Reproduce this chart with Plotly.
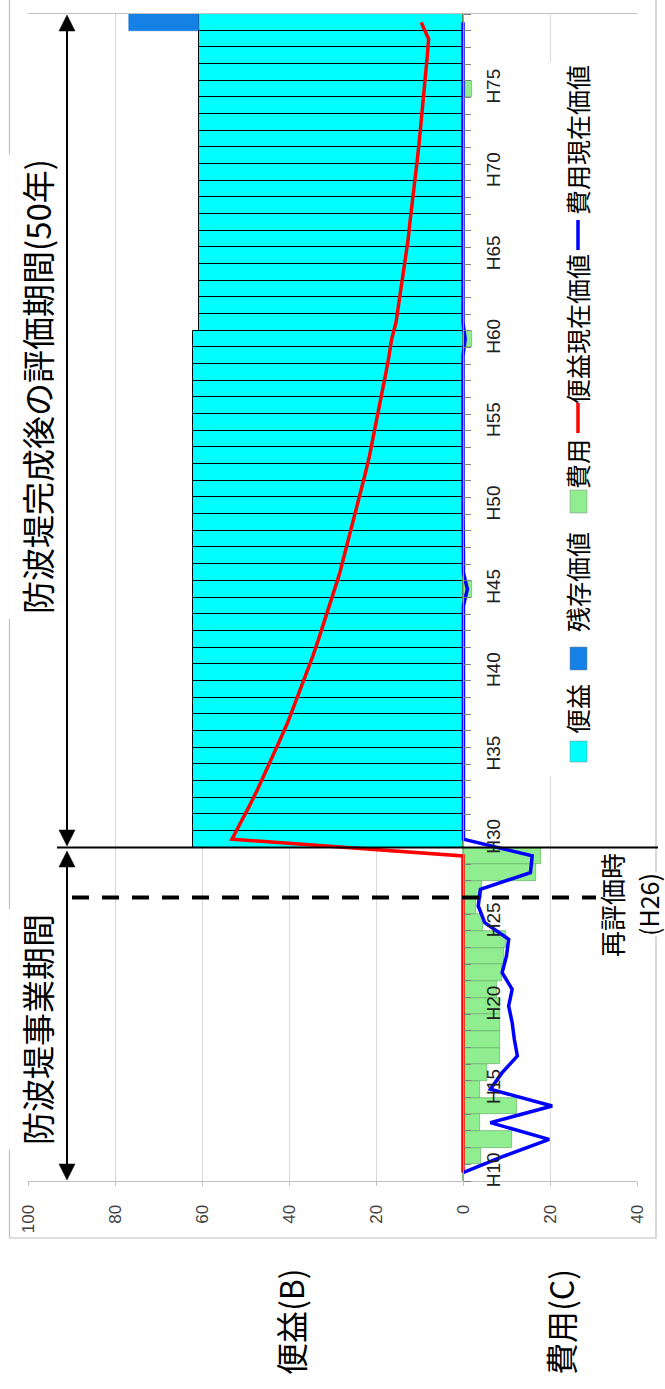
import plotly.graph_objects as go

# ---- data -------------------------------------------------------------
years = [10, 11, 12, 13, 14, 15, 16, 17, 18, 19,
         20, 21, 22, 23, 24, 25, 26, 27, 28, 29,
         30, 31, 32, 33, 34, 35, 36, 37, 38, 39,
         40, 41, 42, 43, 44, 45, 46, 47, 48, 49,
         50, 51, 52, 53, 54, 55, 56, 57, 58, 59,
         60, 61, 62, 63, 64, 65, 66, 67, 68, 69,
         70, 71, 72, 73, 74, 75, 76, 77, 78, 79]

year_tick_vals = [10, 15, 20, 25, 30, 35, 40, 45, 50, 55, 60, 65, 70, 75]
year_tick_text = ["H10", "H15", "H20", "H25", "H30", "H35", "H40",
                  "H45", "H50", "H55", "H60", "H65", "H70", "H75"]

value_tick_vals = [-40, -20, 0, 20, 40, 60, 80, 100]
value_tick_text = ["40", "20", "0", "20", "40", "60", "80", "100"]

# 便益 (annual benefit)
benefit = [None, None, None, None, None, None, None, None, None, None,
           None, None, None, None, None, None, None, None, None, None,
           62.1, 62.1, 62.1, 62.1, 62.1, 62.1, 62.1, 62.1, 62.1, 62.1,
           62.1, 62.1, 62.1, 62.1, 62.1, 62.1, 62.1, 62.1, 62.1, 62.1,
           62.1, 62.1, 62.1, 62.1, 62.1, 62.1, 62.1, 62.1, 62.1, 62.1,
           62.1, 60.7, 60.7, 60.7, 60.7, 60.7, 60.7, 60.7, 60.7, 60.7,
           60.7, 60.7, 60.7, 60.7, 60.7, 60.7, 60.7, 60.7, 60.7, 60.7]

# 残存価値 (residual value, final year)
residual = [None] * 69 + [16.1]

# 費用 (annual cost)
cost = [0.0, 4.2, 11.3, 4.0, 12.3, 3.8, 5.6, 8.6, 8.6, 8.6,
        8.6, 7.9, 9.0, 9.4, 9.8, 4.7, 3.1, 4.4, 16.7, 17.9,
        0.1, 0.1, 0.1, 0.1, 0.1, 0.1, 0.1, 0.1, 0.1, 0.1,
        0.1, 0.1, 0.1, 0.1, 0.1, 2.0, 0.1, 0.1, 0.1, 0.1,
        0.1, 0.1, 0.1, 0.1, 0.1, 0.1, 0.1, 0.1, 0.1, 0.1,
        2.0, 0.1, 0.1, 0.1, 0.1, 0.1, 0.1, 0.1, 0.1, 0.1,
        0.1, 0.1, 0.1, 0.1, 0.1, 2.0, 0.1, 0.1, 0.1, 0.1]

# 便益現在価値 (present value of benefit)
pv_benefit = [0.0, 0.0, 0.0, 0.0, 0.0, 0.0, 0.0, 0.0, 0.0, 0.0,
              0.0, 0.0, 0.0, 0.0, 0.0, 0.0, 0.0, 0.0, 0.0, 0.0,
              53.1, 51.0, 49.1, 47.2, 45.4, 43.6, 42.0, 40.3, 38.8, 37.3,
              35.9, 34.5, 33.2, 31.9, 30.7, 29.5, 28.3, 27.3, 26.2, 25.2,
              24.2, 23.3, 22.4, 21.5, 20.7, 19.9, 19.2, 18.4, 17.7, 17.0,
              16.4, 15.4, 14.8, 14.2, 13.7, 13.2, 12.6, 12.2, 11.7, 11.2,
              10.8, 10.4, 10.0, 9.6, 9.2, 8.9, 8.5, 8.2, 7.9, 9.6]

# 費用現在価値 (present value of cost)
pv_cost = [0.0, 9.5, 19.8, 6.3, 20.5, 6.3, 9.0, 12.5, 11.8, 11.3,
           10.5, 11.3, 9.0, 10.0, 10.5, 5.0, 3.5, 4.0, 15.5, 15.9,
           0.1, 0.1, 0.1, 0.1, 0.1, 0.1, 0.1, 0.1, 0.1, 0.1,
           0.1, 0.1, 0.1, 0.1, 0.1, 1.0, 0.1, 0.1, 0.0, 0.0,
           0.0, 0.0, 0.0, 0.0, 0.0, 0.0, 0.0, 0.0, 0.0, 0.0,
           0.5, 0.0, 0.0, 0.0, 0.0, 0.0, 0.0, 0.0, 0.0, 0.0,
           0.0, 0.0, 0.0, 0.0, 0.0, 0.2, 0.0, 0.0, 0.0, 0.0]

series_names = ["便益", "残存価値", "費用", "便益現在価値", "費用現在価値"]
series_colors = ["#00FFFF", "#1581E6", "#90EE90", "#FF0000", "#0000FF"]

# ---- geometry ----------------------------------------------------------
FIG_W, FIG_H = 665, 1389
M_L, M_R, M_T, M_B = 28, 28, 14, 208
PW = FIG_W - M_L - M_R
PH = FIG_H - M_T - M_B
FONT = "Noto Sans CJK JP"


def px(x):
    return (x - M_L) / PW


def py(y):
    return 1 - (y - M_T) / PH


fig = go.Figure()

fig.add_bar(y=years, x=benefit, orientation="h", width=1,
            name=series_names[0],
            marker=dict(color=series_colors[0], line=dict(color="#000000", width=1)))
fig.add_bar(y=years, x=residual, orientation="h", width=1,
            name=series_names[1],
            marker=dict(color=series_colors[1], line=dict(color="#0F6FC8", width=0.5)))
fig.add_bar(y=years, x=[-c for c in cost], orientation="h", width=1,
            name=series_names[2],
            marker=dict(color=series_colors[2], line=dict(color="#6AAE6A", width=0.7)))
fig.add_scatter(y=years, x=pv_benefit, mode="lines", name=series_names[3],
                line=dict(color=series_colors[3], width=3.5))
fig.add_scatter(y=years, x=[-c for c in pv_cost], mode="lines", name=series_names[4],
                line=dict(color=series_colors[4], width=3.5))

shapes = []
annotations = []

# outer chart frame
shapes.append(dict(type="rect", xref="paper", yref="paper",
                   x0=px(9.5), x1=px(656), y0=py(-2), y1=py(1238),
                   line=dict(color="#BFBFBF", width=1.2), layer="below"))

# legend panel (rotated)
shapes.append(dict(type="rect", xref="paper", yref="paper",
                   x0=px(546), x1=px(630), y0=py(62), y1=py(776),
                   fillcolor="white", line=dict(width=0), layer="above"))
for (y0, y1), col in zip([(741, 762), (647, 670), (490, 513)], series_colors[:3]):
    shapes.append(dict(type="rect", xref="paper", yref="paper",
                       x0=px(570), x1=px(587), y0=py(y1), y1=py(y0),
                       fillcolor=col, line=dict(color="#808080", width=0.5), layer="above"))
for (y0, y1), col in zip([(403, 433), (220, 250)], series_colors[3:]):
    shapes.append(dict(type="line", xref="paper", yref="paper",
                       x0=px(578), x1=px(578), y0=py(y1), y1=py(y0),
                       line=dict(color=col, width=3.5), layer="above"))
for text, yc in zip(series_names, [709, 582, 464, 329, 140]):
    annotations.append(dict(xref="paper", yref="paper", x=px(577), y=py(yc),
                            text=text, textangle=-90, showarrow=False,
                            xanchor="center", yanchor="middle",
                            font=dict(family=FONT, size=25, color="#000000")))

# period separators
shapes.append(dict(type="line", xref="paper", yref="y",
                   x0=px(57), x1=px(658), y0=29.5, y1=29.5,
                   line=dict(color="#000000", width=2), layer="above"))
shapes.append(dict(type="line", xref="paper", yref="y",
                   x0=px(72), x1=px(596), y0=26.5, y1=26.5,
                   line=dict(color="#000000", width=4, dash="17px,13px"), layer="above"))


def v_arrow(x, y_tip_top, y_tip_bot, head=16, half=8):
    shapes.append(dict(type="line", xref="paper", yref="paper",
                       x0=px(x), x1=px(x), y0=py(y_tip_top + head - 2), y1=py(y_tip_bot - head + 2),
                       line=dict(color="#000000", width=2), layer="above"))
    shapes.append(dict(type="path", xref="paper", yref="paper", layer="above",
                       path=f"M {px(x)},{py(y_tip_top)} L {px(x - half)},{py(y_tip_top + head)} "
                            f"L {px(x + half)},{py(y_tip_top + head)} Z",
                       fillcolor="#000000", line=dict(color="#000000", width=0.5)))
    shapes.append(dict(type="path", xref="paper", yref="paper", layer="above",
                       path=f"M {px(x)},{py(y_tip_bot)} L {px(x - half)},{py(y_tip_bot - head)} "
                            f"L {px(x + half)},{py(y_tip_bot - head)} Z",
                       fillcolor="#000000", line=dict(color="#000000", width=0.5)))


v_arrow(67, 15, 846)
v_arrow(67, 851, 1180)

# period labels
annotations.append(dict(xref="paper", yref="paper", x=px(37), y=py(387),
                        text="防波堤完成後の評価期間(50年)", textangle=-90, showarrow=False,
                        xanchor="center", yanchor="middle", bgcolor="white", borderpad=4,
                        font=dict(family=FONT, size=33, color="#000000")))
annotations.append(dict(xref="paper", yref="paper", x=px(37), y=py(1030),
                        text="防波堤事業期間", textangle=-90, showarrow=False,
                        xanchor="center", yanchor="middle", bgcolor="white", borderpad=4,
                        font=dict(family=FONT, size=33, color="#000000")))
annotations.append(dict(xref="paper", yref="paper", x=px(611), y=py(905),
                        text="再評価時", textangle=-90, showarrow=False,
                        xanchor="center", yanchor="middle",
                        font=dict(family=FONT, size=26, color="#000000")))
annotations.append(dict(xref="paper", yref="paper", x=px(648), y=py(905),
                        text="(H26)", textangle=-90, showarrow=False,
                        xanchor="center", yanchor="middle", bgcolor="white", borderpad=0,
                        font=dict(family=FONT, size=25, color="#000000")))

# side captions below the value axis
annotations.append(dict(xref="paper", yref="paper", x=px(290), y=py(1322),
                        text="便益(B)", textangle=-90, showarrow=False,
                        xanchor="center", yanchor="middle",
                        font=dict(family=FONT, size=32, color="#000000")))
annotations.append(dict(xref="paper", yref="paper", x=px(560), y=py(1322),
                        text="費用(C)", textangle=-90, showarrow=False,
                        xanchor="center", yanchor="middle",
                        font=dict(family=FONT, size=32, color="#000000")))

fig.update_layout(
    width=FIG_W, height=FIG_H,
    margin=dict(l=M_L, r=M_R, t=M_T, b=M_B, pad=0),
    paper_bgcolor="white", plot_bgcolor="white",
    barmode="relative", bargap=0,
    showlegend=False,
    font=dict(family=FONT, color="#000000"),
    shapes=shapes, annotations=annotations,
    xaxis=dict(range=[100, -40], tickmode="array",
               tickvals=value_tick_vals, ticktext=value_tick_text,
               tickangle=-90, tickfont=dict(family="Liberation Sans", size=17, color="#404040"),
               showgrid=True, gridcolor="#D9D9D9", gridwidth=1,
               zeroline=False, showline=True, linecolor="#BFBFBF", linewidth=1,
               mirror=True, ticks="outside", ticklen=4, tickcolor="#BFBFBF",
               ticklabelstandoff=12),
    yaxis=dict(range=[9.5, 79.5], anchor="free", position=100 / 140, side="right",
               tickmode="array", tickvals=year_tick_vals, ticktext=year_tick_text,
               tickangle=-90, tickfont=dict(family="Liberation Sans", size=19, color="#202020"),
               showgrid=False, zeroline=False, showline=True,
               linecolor="#A0A0A0", linewidth=1, ticks="",
               minor=dict(ticks="outside", tickmode="linear", tick0=9.5, dtick=1,
                          ticklen=7, tickcolor="#808080", showgrid=False),
               ticklabelstandoff=13),
)

fig.write_html("out.html")
